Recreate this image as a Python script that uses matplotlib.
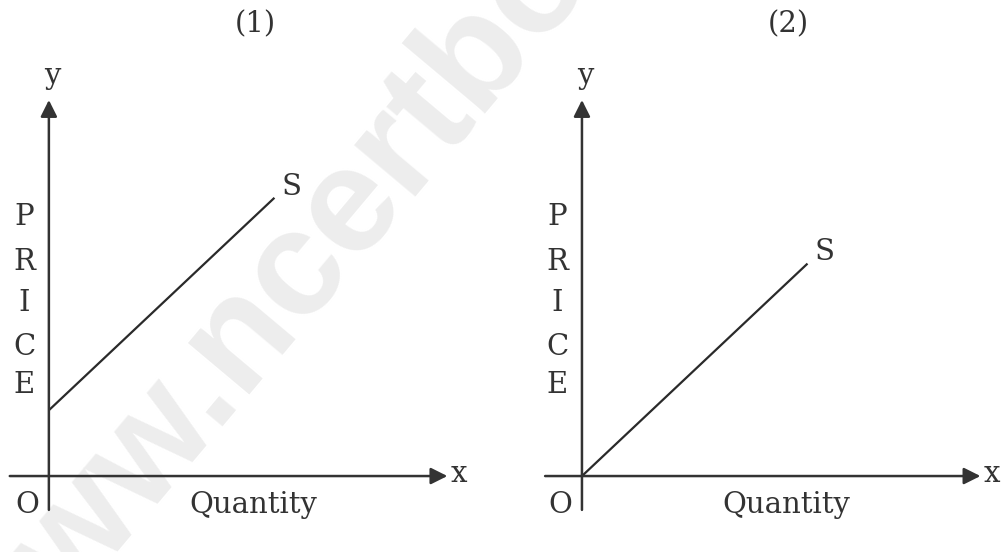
"""
Supply curves: (1) starting above the origin, (2) starting at the origin.
"""

import matplotlib
matplotlib.use("Agg")
import matplotlib.pyplot as plt

# ----------------------------------------------------------------------------
# Data (quantity / price in arbitrary units, 1 unit ~ 37.6 px)
# ----------------------------------------------------------------------------
panel_titles = ["(1)", "(2)"]
supply_q = [[0.0, 6.0], [0.0, 6.0]]
supply_p = [[1.75, 7.4], [0.0, 5.65]]
price_letters = ["P", "R", "I", "C", "E"]
price_letter_y = [6.89, 5.69, 4.6, 3.43, 2.42]
x_axis_range = [-1.04, 10.6]
y_axis_range = [-0.9, 10.0]

INK = "#333333"
SERIF = "DejaVu Serif"
FS = 21

plt.rcParams.update({"font.family": SERIF})

fig = plt.figure(figsize=(10.03, 5.52), dpi=100)
fig.patch.set_facecolor("white")

# watermark
fig.text(
    -0.004, -0.263, "www.ncertbooks.guru",
    rotation=50, rotation_mode="anchor", ha="left", va="baseline",
    fontsize=108, fontweight="bold", family="Liberation Sans",
    color="#ededed", zorder=-5,
)

# axes placement (figure fraction) and data limits per panel
boxes = [[0.0, 0.0, 500 / 1003, 1.0], [500 / 1003, 0.0, 503 / 1003, 1.0]]
xlims = [(-1.30, 12.0), (-2.18, 11.2)]
ylim = (-2.02, 12.66)

for i in range(2):
    ax = fig.add_axes(boxes[i])
    ax.set_xlim(*xlims[i])
    ax.set_ylim(*ylim)
    ax.axis("off")
    ax.patch.set_alpha(0)

    # axes with arrow heads
    ax.annotate(
        "", xy=(x_axis_range[1], 0), xytext=(x_axis_range[0] + (0.06 if i else 0), 0),
        arrowprops=dict(arrowstyle="-|>", color=INK, lw=1.8,
                        mutation_scale=25, shrinkA=0, shrinkB=0),
    )
    ax.annotate(
        "", xy=(0, y_axis_range[1]), xytext=(0, y_axis_range[0]),
        arrowprops=dict(arrowstyle="-|>", color=INK, lw=1.8,
                        mutation_scale=25, shrinkA=0, shrinkB=0),
    )

    # supply curve
    ax.plot(supply_q[i], supply_p[i], color="#2a2a2a", lw=1.6,
            solid_capstyle="butt")

    ax.text(supply_q[i][1] + 0.45, supply_p[i][1] + 0.3, "S",
            fontsize=FS, color=INK, ha="center", va="center")
    ax.text(5.48, 12.0, panel_titles[i], fontsize=FS, color=INK,
            ha="center", va="center")
    ax.text(0.08, 10.65, "y", fontsize=FS, color=INK, ha="center", va="center")
    ax.text(10.9, 0.05, "x", fontsize=FS, color=INK, ha="center", va="center")
    ax.text(-0.58, -0.77, "O", fontsize=FS, color=INK, ha="center", va="center")
    ax.text(5.44, -0.77, "Quantity", fontsize=FS, color=INK,
            ha="center", va="center")

    for letter, ly in zip(price_letters, price_letter_y):
        ax.text(-0.65, ly, letter, fontsize=FS, color=INK,
                ha="center", va="center")

fig.savefig("out.png", dpi=100)
plt.close(fig)
